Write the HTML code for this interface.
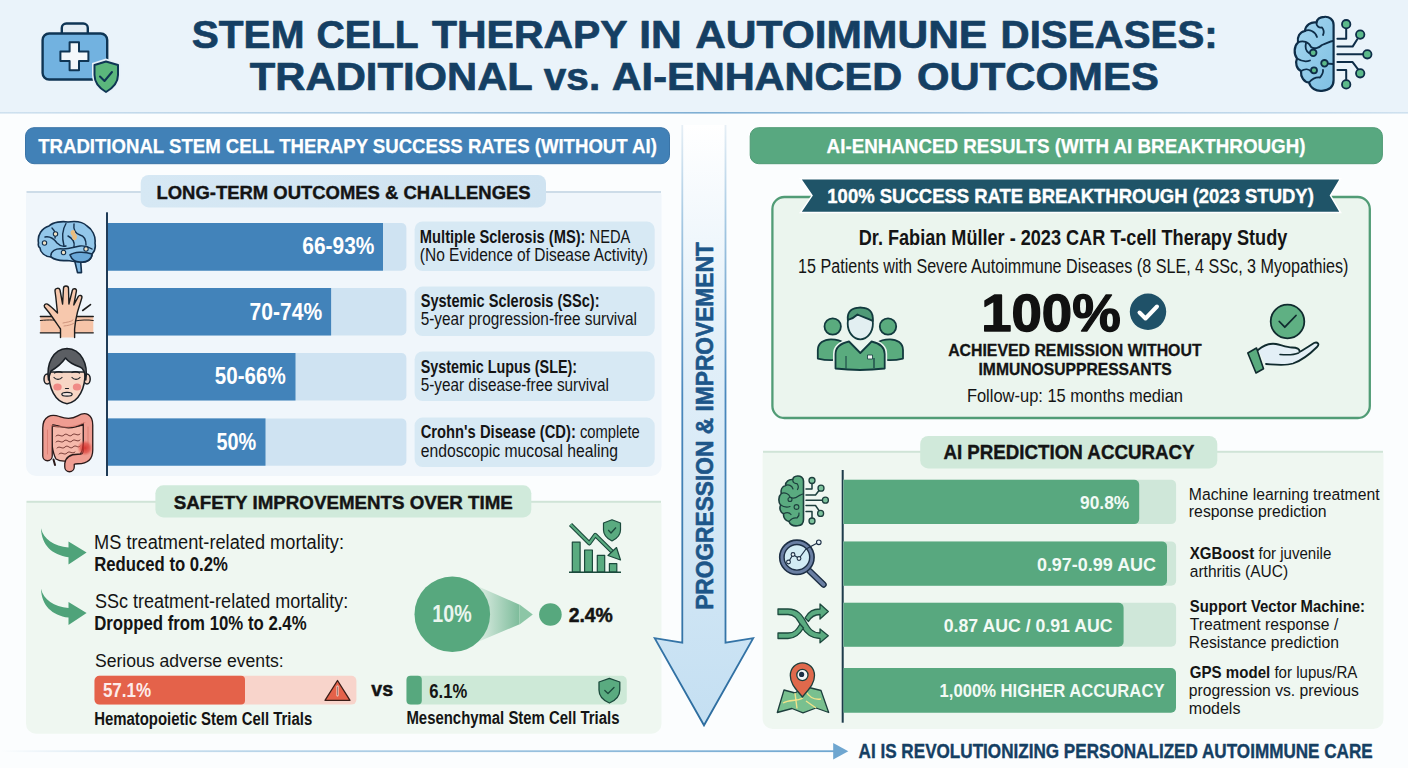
<!DOCTYPE html>
<html><head><meta charset="utf-8"><title>Stem Cell Therapy in Autoimmune Diseases</title>
<style>
html,body{margin:0;padding:0;background:#fbfdfe;}
body{width:1408px;height:768px;overflow:hidden;}
svg{display:block;}
text{font-family:"Liberation Sans",Arial,sans-serif;}
</style></head><body>
<svg width="1408" height="768" viewBox="0 0 1408 768">
<defs>
  <linearGradient id="hdrLine" x1="0" x2="1" y1="0" y2="0">
    <stop offset="0" stop-color="#cfe1ef"/>
    <stop offset="0.3" stop-color="#a9c9e2"/>
    <stop offset="0.5" stop-color="#7eaed3"/>
    <stop offset="0.7" stop-color="#a9c9e2"/>
    <stop offset="1" stop-color="#cfe1ef"/>
  </linearGradient>
  <linearGradient id="shaft" x1="0" x2="0" y1="0" y2="1">
    <stop offset="0" stop-color="#ffffff"/>
    <stop offset="0.35" stop-color="#e3f0f9"/>
    <stop offset="1" stop-color="#c4dff2"/>
  </linearGradient>
  <linearGradient id="shaftStroke" x1="0" x2="0" y1="0" y2="1">
    <stop offset="0" stop-color="#e6eff6"/>
    <stop offset="0.15" stop-color="#a9cbe4"/>
    <stop offset="0.45" stop-color="#4a88bd"/>
    <stop offset="1" stop-color="#2d6d9f"/>
  </linearGradient>
  <linearGradient id="funnel" x1="0" x2="1" y1="0" y2="0">
    <stop offset="0" stop-color="#57a87e" stop-opacity="0.15"/>
    <stop offset="1" stop-color="#57a87e" stop-opacity="0.75"/>
  </linearGradient>
  <linearGradient id="footLine" x1="0" x2="1" y1="0" y2="0">
    <stop offset="0" stop-color="#6ea6d0" stop-opacity="0"/>
    <stop offset="0.3" stop-color="#8dbadb" stop-opacity="0.6"/>
    <stop offset="1" stop-color="#6ea6d0"/>
  </linearGradient>
  <linearGradient id="tabBlue" x1="0" x2="1" y1="0" y2="0">
    <stop offset="0" stop-color="#d6e8f4"/>
    <stop offset="1" stop-color="#cfe3f1"/>
  </linearGradient>
</defs>
<!-- background -->
<rect x="0" y="0" width="1408" height="768" fill="#fbfdfe"/>
<rect x="0" y="0" width="1408" height="112" fill="#eaf3fa"/>
<rect x="0" y="112" width="1408" height="1.6" fill="url(#hdrLine)"/>

<!-- LEFT title bar -->
<rect x="25.5" y="127.7" width="644" height="36" rx="8.5" fill="#4181b7" stroke="#3a74a7" stroke-width="1"/>
<!-- left top panel -->
<path d="M29.0 192.0 h629.5 a3 3 0 0 1 3 3 v271.0 a10 10 0 0 1 -10 10 h-615.5 a10 10 0 0 1 -10 -10 v-271.0 a3 3 0 0 1 3 -3 z" fill="#f0f6fb"/>
<rect x="26.5" y="191" width="634.5" height="2" fill="#cddce8"/>
<rect x="140.7" y="175" width="405.3" height="32.4" rx="8" fill="url(#tabBlue)"/>
<!-- axis -->
<rect x="106" y="212.3" width="2" height="263.7" fill="#1f3b57"/>
<!-- tracks -->
<g fill="#cfe3f2">
  <path d="M108 223h293.4a5 5 0 0 1 5 5v37.7a5 5 0 0 1 -5 5h-293.4z"/>
  <path d="M108 288h293.4a5 5 0 0 1 5 5v37.5a5 5 0 0 1 -5 5h-293.4z"/>
  <path d="M108 353h293.4a5 5 0 0 1 5 5v37.5a5 5 0 0 1 -5 5h-293.4z"/>
  <path d="M108 418.4h293.4a5 5 0 0 1 5 5v37.3a5 5 0 0 1 -5 5h-293.4z"/>
</g>
<g fill="#4283ba">
  <rect x="108" y="223" width="275" height="47.7"/>
  <rect x="108" y="288" width="223.1" height="47.5"/>
  <rect x="108" y="353" width="187.5" height="47.5"/>
  <rect x="108" y="418.4" width="157.5" height="47.3"/>
</g>
<!-- label boxes -->
<g fill="#d7e9f4">
  <rect x="414.6" y="221.4" width="240.1" height="49.6" rx="8"/>
  <rect x="414.6" y="286.6" width="240.1" height="49.4" rx="8"/>
  <rect x="414.6" y="351.4" width="240.1" height="49.6" rx="8"/>
  <rect x="414.6" y="417.6" width="240.1" height="49.4" rx="8"/>
</g>

<!-- SAFETY panel -->
<path d="M29.0 501.5 h629.5 a3 3 0 0 1 3 3 v219.3 a10 10 0 0 1 -10 10 h-615.5 a10 10 0 0 1 -10 -10 v-219.3 a3 3 0 0 1 3 -3 z" fill="#eff7f1"/>
<rect x="26.5" y="500.8" width="634.5" height="2" fill="#d0e4d7"/>
<rect x="155.4" y="485.3" width="375.9" height="32.1" rx="8" fill="#d0eadb"/>
<!-- red bar -->
<rect x="94.5" y="675.8" width="261.9" height="28.8" rx="5" fill="#f8d4cb"/>
<path d="M99.5 675.8h141.5a4 4 0 0 1 4 4v20.8a4 4 0 0 1 -4 4h-141.5a5 5 0 0 1 -5 -5v-18.8a5 5 0 0 1 5 -5z" fill="#e4624a"/>
<!-- green bar -->
<rect x="406.5" y="675.8" width="220.3" height="28.6" rx="5" fill="#cde9d7"/>
<rect x="406.5" y="675.8" width="15.3" height="28.6" rx="4" fill="#57a87e"/>
<!-- circles -->
<path d="M480 587.2 L519.6 604.7 L519.6 624.3 L480 640.9 Z" fill="url(#funnel)"/>
<path d="M519.6 604.5 L532.8 614.5 L519.6 624.5 Z" fill="#8cc6a6"/>
<circle cx="452.3" cy="614.3" r="37.8" fill="#57a87e"/>
<circle cx="550.4" cy="614.5" r="11.3" fill="#57a87e"/>

<!-- CENTER ARROW -->
<path d="M682.3 125 L725.5 125 L725.5 642.6 L753.2 638.1 L704 725.3 L654.7 638.1 L682.3 642.6 Z" fill="url(#shaft)"/>
<path d="M682.3 125 L682.3 642.6 L654.7 638.1 L704 725.3 L753.2 638.1 L725.5 642.6 L725.5 125" fill="none" stroke="url(#shaftStroke)" stroke-width="1.8" stroke-linejoin="miter"/>

<!-- RIGHT title bar -->
<rect x="750.2" y="127.7" width="632.2" height="36" rx="8.5" fill="#58a880" stroke="#4f9a74" stroke-width="1"/>
<!-- card -->
<rect x="772.4" y="197" width="597.4" height="221" rx="12" fill="#ebf5ee" stroke="#519c76" stroke-width="2.3"/>
<!-- ribbon -->
<path d="M800.4 178.7 L1340.6 178.7 L1330.5 195.6 L1340.6 212.5 L800.4 212.5 L812 195.6 Z" fill="#1f5468" stroke="#ffffff" stroke-width="1.5"/>
<!-- check circle -->
<circle cx="1148" cy="311.8" r="18.2" fill="#1f5168"/>
<path d="M1139.5 312.5 L1145.5 318.5 L1157 306.5" fill="none" stroke="#ffffff" stroke-width="4" stroke-linecap="round" stroke-linejoin="round"/>

<!-- AI panel -->
<path d="M765.6 451.5 h614.9 a3 3 0 0 1 3 3 v264.5 a10 10 0 0 1 -10 10 h-600.9 a10 10 0 0 1 -10 -10 v-264.5 a3 3 0 0 1 3 -3 z" fill="#eff7f1"/>
<rect x="763" y="450.8" width="620" height="2" fill="#d0e4d7"/>
<rect x="920.2" y="436" width="297.1" height="32.4" rx="8" fill="#d0e9da"/>
<rect x="841.7" y="470" width="2" height="252.7" fill="#1d3b4a"/>
<g fill="#cfe7d9">
  <path d="M843.5 479.8h327.6a5 5 0 0 1 5 5v34.3a5 5 0 0 1 -5 5h-327.6z"/>
  <path d="M843.5 541.4h327.6a5 5 0 0 1 5 5v34.3a5 5 0 0 1 -5 5h-327.6z"/>
  <path d="M843.5 602.8h327.6a5 5 0 0 1 5 5v34a5 5 0 0 1 -5 5h-327.6z"/>
</g>
<g fill="#58a87f">
  <path d="M843.5 479.8h290.7a5 5 0 0 1 5 5v34.3a5 5 0 0 1 -5 5h-290.7z"/>
  <path d="M843.5 541.4h318.5a5 5 0 0 1 5 5v34.3a5 5 0 0 1 -5 5h-318.5z"/>
  <path d="M843.5 602.8h275.1a5 5 0 0 1 5 5v34a5 5 0 0 1 -5 5h-275.1z"/>
  <path d="M843.5 668.1h327.5a5 5 0 0 1 5 5v34.6a5 5 0 0 1 -5 5h-327.5z"/>
</g>

<!-- FOOTER -->
<rect x="0" y="750.3" width="836" height="1.8" fill="url(#footLine)"/>
<path d="M833.2 743 L848.3 751.2 L833.2 759.6 Z" fill="#6ea6d0"/>

<!-- ===== HEADER: medical kit ===== -->
<g stroke="#0f3554" stroke-width="2.4" stroke-linejoin="round">
  <rect x="61.8" y="23.5" width="26" height="14" rx="4.5" fill="#e4edf4"/>
  <rect x="42.6" y="33.5" width="64.6" height="46" rx="6.5" fill="#72b2e0"/>
  <path d="M69.6 42.3h9.4v9.3h9.4v9.4h-9.4v9.3h-9.4v-9.3h-9.2v-9.4h9.2z" fill="#f4f8fb" stroke-width="2"/>
</g>
<path d="M106 58.5 L92 63 L92 75 C92 84, 99 90.5, 106 94.5 C113 90.5, 120.5 84, 120.5 75 L120.5 63 Z" fill="#e8f1f9"/>
<path d="M106 61.5 L94.5 65 L94.5 75 C94.5 83, 100 88.5, 106 92 C112 88.5, 118 83, 118 75 L118 65 Z" fill="#5bb67c" stroke="#0f3554" stroke-width="2" stroke-linejoin="round"/>
<path d="M100 76.5 L104.5 81 L112 72" fill="none" stroke="#0f3554" stroke-width="2" stroke-linecap="round" stroke-linejoin="round"/>

<!-- ===== HEADER: brain circuit ===== -->
<defs>
  <linearGradient id="brainG" x1="0" x2="1" y1="0" y2="1">
    <stop offset="0" stop-color="#a5d6ef"/>
    <stop offset="1" stop-color="#7fc0e3"/>
  </linearGradient>
</defs>
<g stroke="#0e2d48" stroke-width="2.2" stroke-linecap="round" stroke-linejoin="round">
  <path d="M1333.6 25 C1333.6 19, 1329 16.5, 1324.5 16.8 C1320 17, 1317 19.5, 1316.5 22.5 C1311 21.5, 1305.5 25, 1305 31 C1299.5 32, 1297 37, 1298 42.5 C1294 46, 1293.5 54, 1297 58.5 C1295 63, 1296.5 69, 1301 71 C1300.5 77, 1304 82, 1309 82.5 C1310.5 88, 1316 91.5, 1322 90.8 C1328.5 90.3, 1333.6 87, 1333.6 80 Z" fill="url(#brainG)"/>
  <g fill="none" stroke-width="1.8">
    <path d="M1316.5 22.5 C1316 26, 1319 28, 1322 27.5 C1324 30, 1324 33, 1323 35"/>
    <path d="M1305 31 C1309 29, 1315 31, 1317 37"/>
    <path d="M1298 42.5 C1303 40, 1309 42, 1311 47 C1314 49.5, 1319 48, 1322 45 C1326 44, 1330 41, 1333 41"/>
    <path d="M1306 43 C1305 47, 1306 51, 1309 53"/>
    <path d="M1297 58.5 C1301 61, 1306 62, 1310 60.5"/>
    <path d="M1301 71 C1305 68.5, 1309 69, 1311 71.5"/>
    <path d="M1309 82.5 C1312 79, 1316 77, 1320 77.5 C1322 75, 1323.5 73, 1323 70"/>
    <path d="M1324.5 63.3 L1333 64"/>
  </g>
  <g fill="none" stroke-width="2">
    <path d="M1337.4 38.7 H1346.2 V28.7"/>
    <path d="M1337.4 46.6 H1352.6 L1357.3 39.3"/>
    <path d="M1337.4 54.3 H1362.6"/>
    <path d="M1337.4 62.1 H1352.6 L1357.9 69.2"/>
    <path d="M1337.4 70 H1346.2 V79.7"/>
  </g>
  <g fill="#5cb98a" stroke-width="1.8">
    <circle cx="1346.2" cy="24.2" r="4.2"/>
    <circle cx="1360.2" cy="34.6" r="4.2"/>
    <circle cx="1367.3" cy="54.3" r="4.2"/>
    <circle cx="1360.2" cy="73.3" r="4.2"/>
    <circle cx="1346.2" cy="84.4" r="4.2"/>
    <circle cx="1313.2" cy="52.8" r="3.3"/>
    <circle cx="1324.5" cy="63.3" r="3.3"/>
    <circle cx="1314" cy="70.3" r="3"/>
  </g>
</g>

<!-- ===== LEFT: brain (MS) ===== -->
<g stroke="#14304d" stroke-width="1.6" stroke-linejoin="round" stroke-linecap="round">
  <path d="M74.5 260 L77.5 272.6 L81.5 272.6 L80.5 259 Z" fill="#7fb8e2"/>
  <path d="M38.5 243 C37 235, 42 228, 49 226 C53 222, 62 221, 68 222 C75 221, 83 222, 87 226 C92 229, 96 236, 95 243 C96 248, 94 252, 92 254 C92 259, 87 263, 80 262 C76 262, 72 261, 67 260.5 C61 261, 55 260, 51 257 C45 257, 40 252, 40 248 C38.5 247, 38 245, 38.5 243 Z" fill="#93c7ea"/>
  <path d="M70 255 C74 252, 84 251, 92 254 C92 259, 87 263, 80 262 C76 262, 72 260, 70 255 Z" fill="#6aa8d8"/>
  <g fill="none" stroke-width="1.4">
    <path d="M51 257 C50 251, 56 248, 63 249 C70 249, 74 247, 80 246 C85 245.5, 89 247, 92 249"/>
    <path d="M66 223.5 C62 230, 62 238, 64 246"/>
    <path d="M45 237 C50 236, 54 239, 57 243 C60 246, 63 247, 66 246"/>
    <path d="M52 228 C55 231, 56 235, 55 238"/>
    <path d="M74 224 C73 230, 76 234, 80 235 C84 236, 86 240, 86 245"/>
    <path d="M68 236 C72 238, 75 242, 74 247"/>
  </g>
  <g fill="#f1e2c4" stroke-width="1.1">
    <circle cx="55.5" cy="234" r="2.2"/>
    <circle cx="44.5" cy="243" r="2.2"/>
    <circle cx="63.5" cy="252.5" r="2.2"/>
    <circle cx="86" cy="249" r="2.2"/>
  </g>
  <path d="M71 231 C73 229, 75.5 230, 75 233 C77 235, 78 238, 75.5 240 C73 241, 71.5 238.5, 72.5 236 C71 235, 70 233, 71 231 Z" fill="#e9bd7e" stroke="none"/>
</g>

<!-- ===== LEFT: hand (SSc) ===== -->
<g stroke="#1d1d1d" stroke-width="1.4" stroke-linejoin="round" stroke-linecap="round">
  <rect x="40.3" y="316.2" width="53" height="16.6" fill="#f6c4a8" stroke="none"/>
  <path d="M40.3 316.5 H93.3 M40.3 332.8 H93.3" fill="none" stroke-width="1.3"/>
  <path d="M40.3 320.5 C50 319.5, 56 320, 60 321 M75 321 C80 320, 88 319.5, 93.3 320.5" fill="none" stroke-width="1"/>
  <path d="M60.5 337.6 L60.5 329 C57 324, 53 318, 49 312.5 L44.5 307 C43.5 305, 45.5 303.2, 47.5 304.2 C50.5 306, 54 309.5, 57.5 313 L55.8 297 L55 291 C54.8 288, 59.2 287.3, 60 290 L62.6 304 L63.5 288.2 C63.5 285.2, 68.5 285.2, 68.5 288.2 L68.9 304 L72.3 290.5 C73 287.8, 77 288.3, 76.4 291.2 L73.8 305 L78.2 296.6 C79.4 294.4, 82.6 295.4, 81.8 298 L77.5 312 C76 318, 75 323, 74.6 329 L74.6 337.6" fill="#f7c8ad"/>
  <path d="M63 323 C67 322, 71 322, 73 320 M64 326 C68 325.5, 71 325, 73.5 323.5" fill="none" stroke="#c98f78" stroke-width="0.9"/>
  <path d="M82.7 310.5 L90.5 304.6" fill="none" stroke-width="1.6"/>
</g>

<!-- ===== LEFT: face (SLE) ===== -->
<g stroke="#1a1f25" stroke-width="1.5" stroke-linejoin="round" stroke-linecap="round">
  <ellipse cx="47.2" cy="379" rx="3.2" ry="5" fill="#f6d3c2"/>
  <ellipse cx="87" cy="379" rx="3.2" ry="5" fill="#f6d3c2"/>
  <path d="M49 372 C48.5 388, 55 402, 67 403.8 C79 402, 85.5 388, 85 372 Z" fill="#f7d6c5"/>
  <path d="M48.5 380 C46 364, 53 349, 67 348.5 C81 349, 88.5 364, 85.8 380 C85 372, 83 368, 80 367 C74 365, 68.5 362, 65.5 358 C62 363, 56 368, 51 371 C49.8 374, 49 377, 48.5 380 Z" fill="#5b5e63"/>
  <g fill="none" stroke-width="1.2">
    <path d="M54 377.5 C56 380, 60 380, 62 377.5"/>
    <path d="M72 377.5 C74 380, 78 380, 80 377.5"/>
    <path d="M54.5 373 C57 371.5, 60 371.5, 62 372.5"/>
    <path d="M72 372.5 C74 371.5, 77 371.5, 79.5 373"/>
    <path d="M65.5 388.5 H68.5"/>
  </g>
  <ellipse cx="57.5" cy="387" rx="4.2" ry="3.6" fill="#f08a86" stroke="none"/>
  <ellipse cx="77" cy="387" rx="4.2" ry="3.6" fill="#f08a86" stroke="none"/>
  <ellipse cx="67" cy="394.2" rx="5.2" ry="1.9" fill="#f3e6e0" stroke-width="1.2"/>
</g>

<!-- ===== LEFT: colon (CD) ===== -->
<defs><radialGradient id="inflam"><stop offset="0" stop-color="#d42a26" stop-opacity="0.9"/><stop offset="0.6" stop-color="#dc3b35" stop-opacity="0.6"/><stop offset="1" stop-color="#e8645c" stop-opacity="0"/></radialGradient></defs>
<g stroke-linejoin="round" stroke-linecap="round" fill="none">
  <path d="M51 426 C51 440, 52 452, 56 459 C62 463, 70 461, 76 459 C82 455, 84 446, 84 437 C84 431, 84 427, 84 425 C72 427, 62 427, 51 426 Z" fill="#f5b9ab" stroke="#2a1a1a" stroke-width="1.3"/>
  <path d="M56 436 C59 433, 61 438, 64 435 C67 432, 69 438, 72 435 C75 432, 77 437, 80 434 M56 442 C59 439, 61 444, 64 441 C67 438, 69 444, 72 441 C75 438, 77 443, 80 440 M57 448 C60 445, 62 450, 65 447 C68 444, 70 450, 73 447 C76 444, 78 449, 80 446 M59 454 C62 451, 64 456, 67 453 C70 450, 72 455, 75 452" stroke="#6b2f2a" stroke-width="0.9"/>
  <path d="M47.5 456 L47.5 428 C47.5 420, 52 419, 58 421 C66 424, 73 424, 80 420 C85 417, 88 418, 88 425 L88 450 C88 457, 84 459, 78 459 C73 459, 70 460, 69.5 464 L69.5 467" stroke="#2a1a1a" stroke-width="10.8"/>
  <path d="M47.5 456 L47.5 428 C47.5 420, 52 419, 58 421 C66 424, 73 424, 80 420 C85 417, 88 418, 88 425 L88 450 C88 457, 84 459, 78 459 C73 459, 70 460, 69.5 464 L69.5 467" stroke="#ef9d92" stroke-width="8.2"/>
  <path d="M51 425.5 C60 427.5, 72 428.5, 85 422.5 M47.5 430 V454 M88 427 V448" stroke="#d9786d" stroke-width="0.8"/>
  <circle cx="85" cy="448" r="8" fill="url(#inflam)" stroke="none"/>
  <path d="M53.5 459.5 L55 465" stroke="#2a1a1a" stroke-width="2"/>
</g>

<!-- ===== SAFETY: curved arrows ===== -->
<g fill="#4fa37a">
  <path d="M41 528.3 C43.5 539.5, 54 546, 68.5 547.6 L68.5 541.6 L86.6 552.6 L68.5 564.5 L68.5 557.2 C52 555, 41.5 545, 41 528.3 Z"/>
  <path d="M41 588.7 C43.5 599.9, 54 606.4, 68.5 608 L68.5 602 L86.6 613 L68.5 624.9 L68.5 617.6 C52 615.4, 41.5 605.4, 41 588.7 Z"/>
</g>

<!-- ===== SAFETY: chart icon ===== -->
<g stroke="#1b4a3c" stroke-width="1.2" stroke-linejoin="round">
  <rect x="572.3" y="542.2" width="7.8" height="29.9" fill="#5aab80"/>
  <rect x="584.6" y="550" width="7.8" height="22.1" fill="#5aab80"/>
  <rect x="597.3" y="555.3" width="7.4" height="16.8" fill="#5aab80"/>
  <rect x="609.4" y="563.7" width="7.4" height="8.4" fill="#5aab80"/>
  <path d="M569 572.3 H621" fill="none" stroke-width="1.6"/>
  <path d="M570.5 524.5 L589.3 543.3 L595.3 535 L613 552.5" fill="none" stroke="#1b4a3c" stroke-width="4.4" stroke-linecap="butt"/>
  <path d="M570.5 524.5 L589.3 543.3 L595.3 535 L613 552.5" fill="none" stroke="#5aab80" stroke-width="2.2" stroke-linecap="butt"/>
  <path d="M608 555.5 L620.5 560 L616.5 547.5 Z" fill="#5aab80"/>
  <path d="M612 519.8 L603.5 523 L603.5 530 C603.5 535, 607 538.5, 612 541 C617 538.5, 620.5 535, 620.5 530 L620.5 523 Z" fill="#5aab80"/>
  <path d="M608.2 530 L611 533 L616 527.5" fill="none" stroke-width="1.3"/>
</g>

<!-- ===== SAFETY: warning triangle ===== -->
<path d="M337.5 680.5 L350 700.3 L325 700.3 Z" fill="#e4624a" stroke="#3a1d18" stroke-width="1.3" stroke-linejoin="round"/>
<path d="M337.5 686.5 V695.5" stroke="#fbe3dc" stroke-width="2" stroke-linecap="round"/>
<path d="M337.5 686.5 V695.5" stroke="#3a1d18" stroke-width="0.5"/>

<!-- ===== SAFETY: green shield ===== -->
<path d="M609.4 678.3 L599 682 L599 690 C599 696, 603.5 700.5, 609.4 703 C615.3 700.5, 619.8 696, 619.8 690 L619.8 682 Z" fill="#5aab80" stroke="#1b4a3c" stroke-width="1.3" stroke-linejoin="round"/>
<path d="M604.8 690.5 L608 693.5 L614 687.5" fill="none" stroke="#1b4a3c" stroke-width="1.3" stroke-linecap="round" stroke-linejoin="round"/>

<!-- ===== RIGHT: people ===== -->
<g stroke="#123a3e" stroke-width="1.8" stroke-linejoin="round">
  <circle cx="832.7" cy="326.5" r="8.2" fill="#5aab7e"/>
  <circle cx="888" cy="326.5" r="8.2" fill="#5aab7e"/>
  <path d="M817.8 358.6 L817.8 350 C817.8 343, 824 339.3, 831 339.3 C837 339.3, 841 340.5, 844.3 343 L844.3 358.6 C836 360.5, 826 360.5, 817.8 358.6 Z" fill="#5aab7e"/>
  <path d="M903 358.6 L903 350 C903 343, 897 339.3, 890 339.3 C884 339.3, 880 340.5, 877 343 L877 358.6 C885 360.5, 895 360.5, 903 358.6 Z" fill="#5aab7e"/>
  <path d="M835.5 368.5 L835.5 354 C835.5 347, 840 343.5, 849 341.5 L860.3 353 L871.6 341.5 C880.6 343.5, 884.7 347, 884.7 354 L884.7 368.5 C868 370.5, 852 370.5, 835.5 368.5 Z" fill="#5aab7e" stroke="#eaf5ee" stroke-width="5"/>
  <path d="M835.5 368.5 L835.5 354 C835.5 347, 840 343.5, 849 341.5 L860.3 353 L871.6 341.5 C880.6 343.5, 884.7 347, 884.7 354 L884.7 368.5 C868 370.5, 852 370.5, 835.5 368.5 Z" fill="#5aab7e"/>
  <ellipse cx="860.3" cy="323.5" rx="12.6" ry="15.8" fill="#e2eff1" stroke="#eaf5ee" stroke-width="5"/>
  <ellipse cx="860.3" cy="323.5" rx="12.6" ry="15.8" fill="#e2eff1"/>
  <path d="M847.8 320 C847 311, 852 307.7, 860.3 307.7 C868.6 307.7, 873.5 311, 872.8 321 C868 318, 862 317, 857.5 314.5 C854.5 317.5, 851 319, 847.8 320 Z" fill="#4f9a77"/>
  <rect x="867.5" y="355" width="5" height="4" fill="#f2f7f4" stroke-width="0.8"/>
  <path d="M874 358 V368" fill="none" stroke-width="1.2"/>
  <path d="M846 356 V368.5" fill="none" stroke-width="1"/>
</g>

<!-- ===== RIGHT: hand with check ===== -->
<g stroke="#102b2e" stroke-width="1.8" stroke-linejoin="round" stroke-linecap="round">
  <circle cx="1287.5" cy="321.5" r="16.8" fill="#5fb083"/>
  <path d="M1279.3 321.5 L1284.8 327.2 L1296 315.5" fill="none" stroke-width="1.8"/>
  <path d="M1258 350 C1264 345, 1270 343, 1276 344 C1281 345, 1287 347.5, 1292 347.5 C1297 347.5, 1300 349, 1299.5 352 C1304 349.5, 1310 345.5, 1314 343 C1317.5 341.5, 1320 344, 1317 347 C1311 353, 1303 360, 1293 363.5 C1285 366, 1274 364.5, 1266 364" fill="#e3eff6"/>
  <path d="M1280 354.5 C1286 355, 1294 355, 1298.5 353" fill="none" stroke-width="1.6"/>
  <path d="M1247.8 353 L1256.5 348 L1263.5 368.8 L1256 373 Z" fill="#5aab7e" stroke-width="1.6"/>
</g>

<!-- ===== AI: brain circuit (green) ===== -->
<g stroke="#1d3f3d" stroke-width="1.6" stroke-linecap="round" stroke-linejoin="round">
  <path d="M803.5 481 C803.5 477.5, 800.5 475.8, 797.5 476 C795 476.2, 793 477.5, 792.8 479.5 C789 479, 785.5 481.5, 785.5 485.5 C782 486.5, 780.5 490, 781.3 493.5 C778.5 496, 778 502, 780.6 505 C779 508.5, 780.5 512.5, 783.5 513.8 C783.2 517.5, 785.5 521, 789 521.5 C790 524.5, 793.5 526.2, 797.5 525.8 C801.5 525.5, 803.5 523.5, 803.5 519.5 Z" fill="#5aab80"/>
  <g fill="none" stroke-width="1.2">
    <path d="M792.8 479.5 C792.5 482, 794.5 484, 797 483.5 C798.5 485.5, 798.5 488, 797.5 489.5"/>
    <path d="M785.5 485.5 C788.5 484, 792 485.5, 793 489"/>
    <path d="M781.3 493.5 C785 492, 789 494, 790 497 C792.5 499, 796 498, 798.5 496 C800.5 495, 802 494, 803.5 494"/>
    <path d="M780.6 505 C783.5 507, 787 507.5, 790 506.5"/>
    <path d="M783.5 513.8 C786.5 512, 789.5 512.5, 791 514.5"/>
    <path d="M789 521.5 C791 519, 794 517.5, 797 518 C798.5 516.5, 799.5 515, 799 513"/>
  </g>
  <circle cx="796.5" cy="507" r="2.4" fill="#5aab80" stroke-width="1.1"/>
  <circle cx="790" cy="499.5" r="2" fill="#5aab80" stroke-width="1.1"/>
  <g fill="none" stroke-width="1.5">
    <path d="M806 489 H812 V483.5"/>
    <path d="M806 495 H815.5 L819 490.5"/>
    <path d="M806 500.2 H823"/>
    <path d="M806 505.5 H815.5 L819 510.5"/>
    <path d="M806 511.5 H812 V517.5"/>
  </g>
  <g fill="#7cc29c" stroke-width="1.3">
    <circle cx="812" cy="480.5" r="3"/>
    <circle cx="821" cy="488.2" r="3"/>
    <circle cx="825.4" cy="500.2" r="3"/>
    <circle cx="820.6" cy="513.4" r="3"/>
    <circle cx="812" cy="521" r="3"/>
  </g>
</g>

<!-- ===== AI: magnifier ===== -->
<g stroke-linecap="round" stroke-linejoin="round">
  <path d="M809.5 571 L823.5 584.5" stroke="#1d2f45" stroke-width="6.5"/>
  <path d="M809.5 571 L823.5 584.5" stroke="#6a7fa3" stroke-width="3.8"/>
  <circle cx="796.9" cy="557.3" r="17.2" fill="#6a7fa3" stroke="#1d2f45" stroke-width="1.6"/>
  <circle cx="796.9" cy="557.3" r="12.8" fill="#d2ecf4" stroke="#1d2f45" stroke-width="1.4"/>
  <path d="M788.5 562 L793 554.5 L799 558.5 L806 549 L818.8 542.3" fill="none" stroke="#1d2f45" stroke-width="1.2"/>
  <g fill="#e9f4f8" stroke="#1d2f45" stroke-width="1.1">
    <circle cx="788.5" cy="562" r="1.9"/>
    <circle cx="793" cy="554.5" r="1.9"/>
    <circle cx="799" cy="558.5" r="1.9"/>
    <circle cx="818.8" cy="542.3" r="2.3"/>
  </g>
</g>

<!-- ===== AI: shuffle ===== -->
<g stroke="#1d4a3e" stroke-width="1.3" stroke-linejoin="round" fill="#5aab80">
  <path d="M778 609 L788 609 C798 609, 802 615, 806 622 C810 629, 813 633, 820 633 L820 629 L828.3 635.8 L820 642.8 L820 638.5 C810 638.5, 805 633, 801 626 C797 619, 795 614.5, 788 614.5 L778 614.5 Z"/>
  <path d="M778 633 L788 633 C795 633, 797 629, 800 624 L803.5 628 C800 634, 796 638.5, 788 638.5 L778 638.5 Z"/>
  <path d="M805 618 C809 611, 813 609, 820 609 L820 604 L828.3 611.5 L820 619 L820 614.5 C814 614.5, 811 617, 808.5 621.5 Z"/>
</g>

<!-- ===== AI: map pin ===== -->
<g stroke="#1d3f3d" stroke-width="1.3" stroke-linejoin="round">
  <path d="M777.3 712.5 L784 690 L795 693 L805 686.5 L821 690.5 L828.7 712.5 L816 708 L803 712.8 L792 708.5 Z" fill="#79c08f"/>
  <path d="M783 703 C790 699, 796 702, 803 698 M795 693 L797 708.5 M805 690 C809 697, 813 700, 821 699 M806 701 L816 708" fill="none" stroke="#f2e28a" stroke-width="1.4"/>
  <path d="M802.4 697 C797 690, 790.3 684.5, 790.3 675.5 C790.3 668.5, 795.5 662.8, 802.4 662.8 C809.3 662.8, 814.5 668.5, 814.5 675.5 C814.5 684.5, 807.8 690, 802.4 697 Z" fill="#e0694c"/>
  <circle cx="802.4" cy="675" r="5.6" fill="#f4f6f7"/>
  <circle cx="801.6" cy="674.4" r="2.6" fill="#1d2f45" stroke="none"/>
</g>

<g>
<text x="191.70" y="47.70" font-size="38.81" font-weight="700" fill="#153f63" stroke="#153f63" stroke-width="0.70" stroke-linejoin="round" textLength="112.77" lengthAdjust="spacingAndGlyphs">STEM</text>
<text x="316.54" y="47.70" font-size="38.81" font-weight="700" fill="#153f63" stroke="#153f63" stroke-width="0.70" stroke-linejoin="round" textLength="102.21" lengthAdjust="spacingAndGlyphs">CELL</text>
<text x="432.05" y="47.70" font-size="38.81" font-weight="700" fill="#153f63" stroke="#153f63" stroke-width="0.70" stroke-linejoin="round" textLength="195.57" lengthAdjust="spacingAndGlyphs">THERAPY</text>
<text x="639.16" y="47.70" font-size="38.81" font-weight="700" fill="#153f63" stroke="#153f63" stroke-width="0.70" stroke-linejoin="round" textLength="42.50" lengthAdjust="spacingAndGlyphs">IN</text>
<text x="695.15" y="47.70" font-size="38.81" font-weight="700" fill="#153f63" stroke="#153f63" stroke-width="0.70" stroke-linejoin="round" textLength="292.06" lengthAdjust="spacingAndGlyphs">AUTOIMMUNE</text>
<text x="1000.57" y="47.70" font-size="38.81" font-weight="700" fill="#153f63" stroke="#153f63" stroke-width="0.70" stroke-linejoin="round" textLength="217.11" lengthAdjust="spacingAndGlyphs">DISEASES:</text>
<text x="249.85" y="90.30" font-size="38.66" font-weight="700" fill="#153f63" stroke="#153f63" stroke-width="0.70" stroke-linejoin="round" textLength="282.96" lengthAdjust="spacingAndGlyphs">TRADITIONAL</text>
<text x="543.75" y="90.30" font-size="38.66" font-weight="700" fill="#153f63" stroke="#153f63" stroke-width="0.70" stroke-linejoin="round" textLength="56.43" lengthAdjust="spacingAndGlyphs">vs.</text>
<text x="611.65" y="90.30" font-size="38.66" font-weight="700" fill="#153f63" stroke="#153f63" stroke-width="0.70" stroke-linejoin="round" textLength="290.58" lengthAdjust="spacingAndGlyphs">AI-ENHANCED</text>
<text x="917.07" y="90.30" font-size="38.66" font-weight="700" fill="#153f63" stroke="#153f63" stroke-width="0.70" stroke-linejoin="round" textLength="241.73" lengthAdjust="spacingAndGlyphs">OUTCOMES</text>
<text x="38.23" y="153.10" font-size="19.70" font-weight="700" fill="#ffffff" stroke="#ffffff" stroke-width="0.25" stroke-linejoin="round" textLength="618.67" lengthAdjust="spacingAndGlyphs">TRADITIONAL STEM CELL THERAPY SUCCESS RATES (WITHOUT AI)</text>
<text x="156.43" y="199.20" font-size="19.04" font-weight="700" fill="#141414" stroke="#141414" stroke-width="0.40" stroke-linejoin="round" textLength="374.24" lengthAdjust="spacingAndGlyphs">LONG-TERM OUTCOMES &amp; CHALLENGES</text>
<text x="302.30" y="254.30" font-size="23.11" font-weight="700" fill="#ffffff" textLength="72.10" lengthAdjust="spacingAndGlyphs">66-93%</text>
<text x="249.59" y="319.80" font-size="23.11" font-weight="700" fill="#ffffff" textLength="72.51" lengthAdjust="spacingAndGlyphs">70-74%</text>
<text x="214.80" y="384.30" font-size="23.11" font-weight="700" fill="#ffffff" textLength="70.89" lengthAdjust="spacingAndGlyphs">50-66%</text>
<text x="216.40" y="449.80" font-size="23.11" font-weight="700" fill="#ffffff" textLength="39.77" lengthAdjust="spacingAndGlyphs">50%</text>
<text x="419.86" y="243.20" font-size="17.44" fill="#141414" textLength="210.53" lengthAdjust="spacingAndGlyphs"><tspan font-weight="700">Multiple Sclerosis (MS):</tspan><tspan font-weight="400"> NEDA</tspan></text>
<text x="419.81" y="260.80" font-size="17.44" font-weight="400" fill="#141414" textLength="228.20" lengthAdjust="spacingAndGlyphs">(No Evidence of Disease Activity)</text>
<text x="420.70" y="307.30" font-size="17.44" font-weight="700" fill="#141414" textLength="178.87" lengthAdjust="spacingAndGlyphs">Systemic Sclerosis (SSc):</text>
<text x="420.70" y="325.40" font-size="17.44" font-weight="400" fill="#141414" textLength="216.27" lengthAdjust="spacingAndGlyphs">5-year progression-free survival</text>
<text x="420.70" y="372.90" font-size="17.44" font-weight="700" fill="#141414" textLength="156.36" lengthAdjust="spacingAndGlyphs">Systemic Lupus (SLE):</text>
<text x="420.70" y="390.80" font-size="17.44" font-weight="400" fill="#141414" textLength="188.17" lengthAdjust="spacingAndGlyphs">5-year disease-free survival</text>
<text x="420.70" y="438.40" font-size="17.44" fill="#141414" textLength="219.09" lengthAdjust="spacingAndGlyphs"><tspan font-weight="700">Crohn's Disease (CD):</tspan><tspan font-weight="400"> complete</tspan></text>
<text x="420.70" y="456.70" font-size="17.44" font-weight="400" fill="#141414" textLength="197.33" lengthAdjust="spacingAndGlyphs">endoscopic mucosal healing</text>
<text x="173.70" y="509.00" font-size="18.75" font-weight="700" fill="#141414" stroke="#141414" stroke-width="0.40" stroke-linejoin="round" textLength="339.11" lengthAdjust="spacingAndGlyphs">SAFETY IMPROVEMENTS OVER TIME</text>
<text x="94.08" y="548.80" font-size="19.77" font-weight="400" fill="#141414" textLength="249.89" lengthAdjust="spacingAndGlyphs">MS treatment-related mortality:</text>
<text x="94.15" y="570.60" font-size="19.77" font-weight="700" fill="#141414" textLength="133.77" lengthAdjust="spacingAndGlyphs">Reduced to 0.2%</text>
<text x="95.00" y="608.00" font-size="19.77" font-weight="400" fill="#141414" textLength="253.26" lengthAdjust="spacingAndGlyphs">SSc treatment-related mortality:</text>
<text x="94.15" y="629.70" font-size="19.77" font-weight="700" fill="#141414" textLength="212.48" lengthAdjust="spacingAndGlyphs">Dropped from 10% to 2.4%</text>
<text x="94.90" y="666.80" font-size="17.44" font-weight="400" fill="#141414" textLength="188.85" lengthAdjust="spacingAndGlyphs">Serious adverse events:</text>
<text x="102.90" y="697.30" font-size="19.77" font-weight="700" fill="#fdecea" textLength="48.32" lengthAdjust="spacingAndGlyphs">57.1%</text>
<text x="94.14" y="724.50" font-size="17.44" font-weight="700" fill="#141414" textLength="218.15" lengthAdjust="spacingAndGlyphs">Hematopoietic Stem Cell Trials</text>
<text x="371.25" y="695.80" font-size="20.28" font-weight="700" fill="#141414" stroke="#141414" stroke-width="0.50" stroke-linejoin="round" textLength="21.76" lengthAdjust="spacingAndGlyphs">vs</text>
<text x="429.30" y="697.50" font-size="19.77" font-weight="700" fill="#141414" textLength="37.93" lengthAdjust="spacingAndGlyphs">6.1%</text>
<text x="406.44" y="723.50" font-size="17.44" font-weight="700" fill="#141414" textLength="213.05" lengthAdjust="spacingAndGlyphs">Mesenchymal Stem Cell Trials</text>
<text x="432.36" y="622.30" font-size="23.26" font-weight="700" fill="#eaf5ee" textLength="39.27" lengthAdjust="spacingAndGlyphs">10%</text>
<text x="568.65" y="621.70" font-size="21.08" font-weight="700" fill="#141414" stroke="#141414" stroke-width="0.50" stroke-linejoin="round" textLength="44.15" lengthAdjust="spacingAndGlyphs">2.4%</text>
<text transform="rotate(-90)" x="-609.84" y="713.00" font-size="24.13" font-weight="700" fill="#1d5689" stroke="#1d5689" stroke-width="0.60" stroke-linejoin="round" textLength="367.59" lengthAdjust="spacingAndGlyphs">PROGRESSION &amp; IMPROVEMENT</text>
<text x="826.62" y="153.10" font-size="19.70" font-weight="700" fill="#ffffff" stroke="#ffffff" stroke-width="0.25" stroke-linejoin="round" textLength="478.88" lengthAdjust="spacingAndGlyphs">AI-ENHANCED RESULTS (WITH AI BREAKTHROUGH)</text>
<text x="827.35" y="202.60" font-size="19.48" font-weight="700" fill="#ffffff" stroke="#ffffff" stroke-width="0.40" stroke-linejoin="round" textLength="486.51" lengthAdjust="spacingAndGlyphs">100% SUCCESS RATE BREAKTHROUGH (2023 STUDY)</text>
<text x="858.77" y="245.10" font-size="21.80" font-weight="700" fill="#141414" textLength="428.53" lengthAdjust="spacingAndGlyphs">Dr. Fabian Müller - 2023 CAR T-cell Therapy Study</text>
<text x="798.08" y="272.60" font-size="19.77" font-weight="400" fill="#141414" textLength="550.29" lengthAdjust="spacingAndGlyphs">15 Patients with Severe Autoimmune Diseases (8 SLE, 4 SSc, 3 Myopathies)</text>
<text x="981.19" y="330.60" font-size="51.89" font-weight="700" fill="#111111" stroke="#111111" stroke-width="1.30" stroke-linejoin="round" textLength="139.54" lengthAdjust="spacingAndGlyphs">100%</text>
<text x="948.15" y="356.00" font-size="16.42" font-weight="700" fill="#141414" stroke="#141414" stroke-width="0.30" stroke-linejoin="round" textLength="253.42" lengthAdjust="spacingAndGlyphs">ACHIEVED REMISSION WITHOUT</text>
<text x="978.49" y="375.10" font-size="16.28" font-weight="700" fill="#141414" stroke="#141414" stroke-width="0.30" stroke-linejoin="round" textLength="193.22" lengthAdjust="spacingAndGlyphs">IMMUNOSUPPRESSANTS</text>
<text x="966.89" y="402.00" font-size="18.17" font-weight="400" fill="#141414" textLength="216.10" lengthAdjust="spacingAndGlyphs">Follow-up: 15 months median</text>
<text x="943.40" y="459.30" font-size="19.77" font-weight="700" fill="#141414" stroke="#141414" stroke-width="0.40" stroke-linejoin="round" textLength="251.16" lengthAdjust="spacingAndGlyphs">AI PREDICTION ACCURACY</text>
<text x="1080.10" y="509.00" font-size="19.04" font-weight="700" fill="#f2faf5" textLength="49.13" lengthAdjust="spacingAndGlyphs">90.8%</text>
<text x="1036.90" y="570.60" font-size="19.04" font-weight="700" fill="#f2faf5" textLength="119.16" lengthAdjust="spacingAndGlyphs">0.97-0.99 AUC</text>
<text x="943.70" y="631.80" font-size="19.04" font-weight="700" fill="#f2faf5" textLength="168.86" lengthAdjust="spacingAndGlyphs">0.87 AUC / 0.91 AUC</text>
<text x="939.53" y="697.40" font-size="19.04" font-weight="700" fill="#f2faf5" textLength="225.00" lengthAdjust="spacingAndGlyphs">1,000% HIGHER ACCURACY</text>
<text x="1188.87" y="499.60" font-size="16.86" font-weight="400" fill="#141414" textLength="190.64" lengthAdjust="spacingAndGlyphs">Machine learning treatment</text>
<text x="1188.86" y="516.60" font-size="16.86" font-weight="400" fill="#141414" textLength="137.59" lengthAdjust="spacingAndGlyphs">response prediction</text>
<text x="1189.80" y="559.30" font-size="16.86" fill="#141414" textLength="141.54" lengthAdjust="spacingAndGlyphs"><tspan font-weight="700">XGBoost</tspan><tspan font-weight="400"> for juvenile</tspan></text>
<text x="1189.80" y="577.20" font-size="16.86" font-weight="400" fill="#141414" textLength="98.27" lengthAdjust="spacingAndGlyphs">arthritis (AUC)</text>
<text x="1189.80" y="611.90" font-size="16.86" font-weight="700" fill="#141414" textLength="175.22" lengthAdjust="spacingAndGlyphs">Support Vector Machine:</text>
<text x="1189.80" y="629.80" font-size="16.86" font-weight="400" fill="#141414" textLength="148.51" lengthAdjust="spacingAndGlyphs">Treatment response /</text>
<text x="1188.87" y="648.20" font-size="16.86" font-weight="400" fill="#141414" textLength="150.08" lengthAdjust="spacingAndGlyphs">Resistance prediction</text>
<text x="1189.80" y="677.50" font-size="16.86" fill="#141414" textLength="167.53" lengthAdjust="spacingAndGlyphs"><tspan font-weight="700">GPS model</tspan><tspan font-weight="400"> for lupus/RA</tspan></text>
<text x="1188.87" y="695.70" font-size="16.86" font-weight="400" fill="#141414" textLength="170.03" lengthAdjust="spacingAndGlyphs">progression vs. previous</text>
<text x="1188.85" y="714.10" font-size="16.86" font-weight="400" fill="#141414" textLength="51.56" lengthAdjust="spacingAndGlyphs">models</text>
<text x="858.60" y="758.20" font-size="19.91" font-weight="700" fill="#153f63" stroke="#153f63" stroke-width="0.40" stroke-linejoin="round" textLength="514.14" lengthAdjust="spacingAndGlyphs">AI IS REVOLUTIONIZING PERSONALIZED AUTOIMMUNE CARE</text>
</g>
</svg>
</body></html>
